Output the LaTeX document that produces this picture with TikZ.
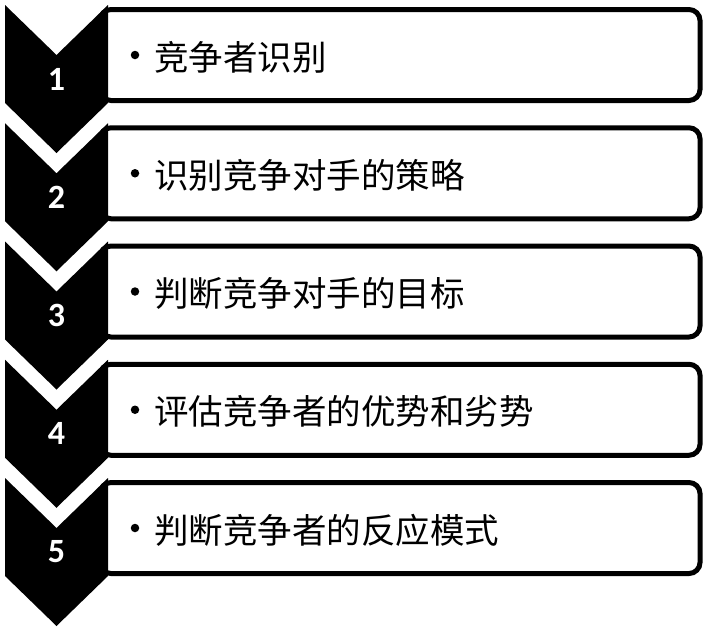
\documentclass[tikz,border=0pt]{standalone}
\usepackage{fontspec}
\setmainfont{Carlito}
\newfontfamily\cjk{Noto Sans CJK SC}
\tikzset{
  chev/.style={fill=black,draw=none},
  stepbox/.style={draw=black,line width=5pt,rounded corners=11pt,fill=white,
    minimum width=600pt,minimum height=91pt,inner sep=0pt},
  num/.style={text=white,font=\fontsize{34}{34}\selectfont\bfseries,inner sep=0pt},
  item/.style={font=\cjk\fontsize{34.5}{36}\selectfont,anchor=west,inner sep=0pt},
  dot/.style={circle,fill=black,minimum size=8.5pt,inner sep=0pt}
}
\begin{document}
\begin{tikzpicture}[x=1pt,y=-1pt]
\useasboundingbox (0,0) rectangle (709,632);
\foreach \i/\t in {1/竞争者识别,2/识别竞争对手的策略,3/判断竞争对手的目标,4/评估竞争者的优势和劣势,5/判断竞争者的反应模式}{
  \pgfmathsetmacro{\top}{5+118.25*(\i-1)}
  \node[stepbox] (box\i) at (400,\top+50) {};
  \path[chev] (5,\top) -- (56.5,\top+50) -- (108,\top) -- (108,\top+98)
     -- (56.5,\top+148) -- (5,\top+98) -- cycle;
  \node[num] (n\i) at (56.5,\top+74) {\i};
  \node[dot] (d\i) at (135,\top+50) {};
  \node[item] (t\i) at (154,\top+52) {\t};
}
\end{tikzpicture}
\end{document}
